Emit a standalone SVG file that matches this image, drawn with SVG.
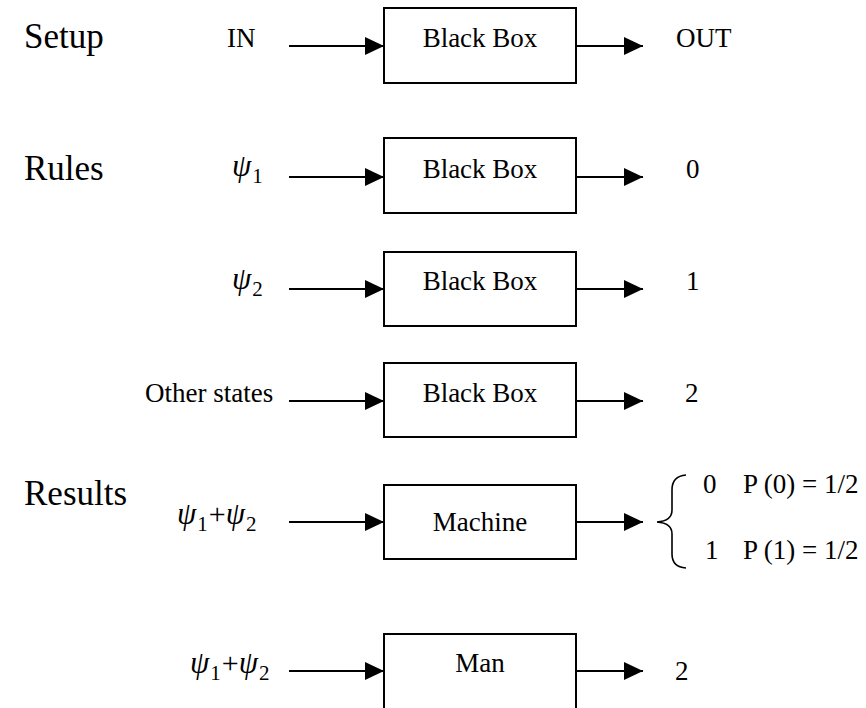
<svg xmlns="http://www.w3.org/2000/svg" width="866" height="708" viewBox="0 0 866 708">
  <style>
    text { font-family: "Liberation Serif", "Times New Roman", serif; fill: #000; }
    .head { font-size: 35px; }
    .lbl { font-size: 27px; }
    .box { fill: #fff; stroke: #000; stroke-width: 2; }
    .psi { font-size: 31px; font-style: italic; }
    .sub { font-size: 21px; font-style: normal; }
    .op { font-size: 30px; font-style: normal; }
    .edge { stroke: #000; stroke-width: 2; fill: none; marker-end: url(#arrow); }
    .brace { stroke: #000; stroke-width: 1.6; fill: none; }
  </style>
  <defs>
    <marker id="arrow" markerUnits="userSpaceOnUse" markerWidth="20" markerHeight="20" refX="19" refY="9" orient="auto">
      <path d="M0,0 L19,9 L0,18 z" fill="#000"/>
    </marker>
  </defs>

  <rect width="866" height="708" fill="#fff"/>

  <!-- section headings -->
  <text class="head" x="24" y="48">Setup</text>
  <text class="head" x="24" y="180">Rules</text>
  <text class="head" x="24" y="505">Results</text>

  <!-- connectors -->
  <g id="connectors">
    <line class="edge" x1="289" y1="46" x2="384" y2="46"/>
    <line class="edge" x1="576" y1="46" x2="643" y2="46"/>
    <line class="edge" x1="289" y1="177" x2="384" y2="177"/>
    <line class="edge" x1="576" y1="177" x2="643" y2="177"/>
    <line class="edge" x1="289" y1="289" x2="384" y2="289"/>
    <line class="edge" x1="576" y1="289" x2="643" y2="289"/>
    <line class="edge" x1="289" y1="401" x2="384" y2="401"/>
    <line class="edge" x1="576" y1="401" x2="643" y2="401"/>
    <line class="edge" x1="289" y1="522" x2="384" y2="522"/>
    <line class="edge" x1="576" y1="522" x2="643" y2="522"/>
    <line class="edge" x1="289" y1="671" x2="384" y2="671"/>
    <line class="edge" x1="576" y1="671" x2="643" y2="671"/>
  </g>

  <!-- setup -->
  <g id="setup-box">
    <rect class="box" x="384" y="8" width="192" height="75"/>
    <text class="lbl" x="480" y="47" text-anchor="middle">Black Box</text>
  </g>
  <text class="lbl" x="227" y="47">IN</text>
  <text class="lbl" x="676" y="47">OUT</text>

  <!-- rule 1 -->
  <g id="rule1-box">
    <rect class="box" x="384" y="138" width="192" height="75"/>
    <text class="lbl" x="480" y="178" text-anchor="middle">Black Box</text>
  </g>
  <text class="psi" x="232" y="176">ψ<tspan class="sub" dx="1" dy="7">1</tspan></text>
  <text class="lbl" x="686" y="178">0</text>

  <!-- rule 2 -->
  <g id="rule2-box">
    <rect class="box" x="384" y="252" width="192" height="74"/>
    <text class="lbl" x="480" y="290" text-anchor="middle">Black Box</text>
  </g>
  <text class="psi" x="232" y="289">ψ<tspan class="sub" dx="1" dy="7">2</tspan></text>
  <text class="lbl" x="686" y="290">1</text>

  <!-- rule 3 -->
  <g id="rule3-box">
    <rect class="box" x="384" y="363" width="192" height="74"/>
    <text class="lbl" x="480" y="402" text-anchor="middle">Black Box</text>
  </g>
  <text class="lbl" x="145" y="402">Other states</text>
  <text class="lbl" x="685" y="402">2</text>

  <!-- results: machine -->
  <g id="machine-box">
    <rect class="box" x="384" y="485" width="192" height="74"/>
    <text class="lbl" x="480" y="531" text-anchor="middle">Machine</text>
  </g>
  <text class="psi" x="177" y="524">ψ<tspan class="sub" dx="1" dy="7">1</tspan><tspan class="op" dx="1" dy="-7">+</tspan>ψ<tspan class="sub" dx="1" dy="7">2</tspan></text>
  <g id="machine-outcomes">
    <path class="brace" d="M686,475 Q672,476 672,490 L672,510 Q672,521 657,522 Q672,523 672,534 L672,554 Q672,567 686,568"/>
    <text class="lbl" x="703" y="493">0</text>
    <text class="lbl" x="743" y="493">P (0) = 1/2</text>
    <text class="lbl" x="705" y="559">1</text>
    <text class="lbl" x="743" y="559">P (1) = 1/2</text>
  </g>

  <!-- results: man -->
  <g id="man-box">
    <rect class="box" x="384" y="634" width="192" height="80"/>
    <text class="lbl" x="480" y="672" text-anchor="middle">Man</text>
  </g>
  <text class="psi" x="190" y="673">ψ<tspan class="sub" dx="1" dy="7">1</tspan><tspan class="op" dx="1" dy="-7">+</tspan>ψ<tspan class="sub" dx="1" dy="7">2</tspan></text>
  <text class="lbl" x="675" y="680">2</text>
</svg>
